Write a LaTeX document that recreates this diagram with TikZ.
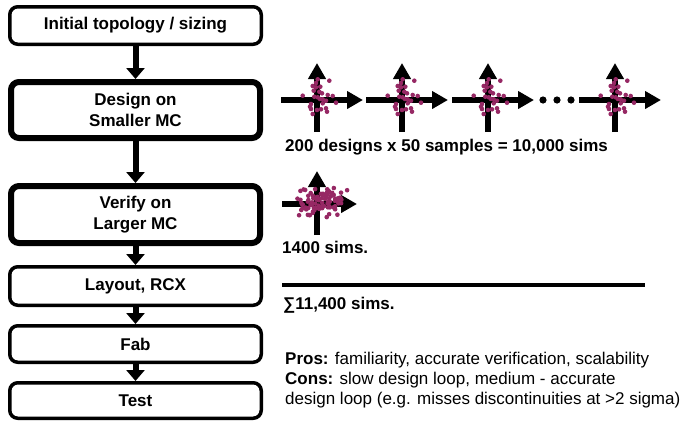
\documentclass[tikz,border=0pt]{standalone}
\usepackage{fontspec}
\setmainfont{Liberation Sans}
\usetikzlibrary{arrows.meta}
\definecolor{dotc}{RGB}{150,40,100}
\tikzset{
  thinbox/.style={draw=black,line width=3.5pt,rounded corners=8pt,fill=white,
    minimum width=251.5pt,inner sep=0pt,align=center,font=\bfseries\fontsize{17}{21}\selectfont},
  thickbox/.style={thinbox,line width=6pt,minimum width=249pt},
  flow/.style={line width=6pt,-{Triangle[width=18pt,length=11pt]}},
  axis/.style={line width=6pt,-{Triangle[width=17pt,length=16pt]}},
  dot/.style={fill=dotc,draw=none},
  lbl/.style={anchor=west,inner sep=0pt,font=\fontsize{17}{20}\selectfont},
}
\newcommand{\smallplot}[1]{%
  \begin{scope}[shift={#1}]
    \coordinate (hl) at (-36,0); \coordinate (hr) at (46,0);
    \coordinate (vb) at (0,32); \coordinate (vt) at (0,-37);
    \draw[axis] (hl) -- (hr);
    \draw[axis] (vb) -- (vt);
    \foreach \px/\py in {12.3/-19.3,0.7/-20.7,-4.3/-14,-1/-12.7,3.3/-13.3,-3.3/-9.3,2.3/-8.3,5/-6.7,
      -14.3/-4.3,-2.7/-3.3,0.7/-2.7,10.7/-5,15.7/-4,5.7/-0.7,9/0.7,19/2.7,-6/4,-7/6.7,-6/9,
      5.7/3.3,0/10,4/9.3,9/8.3,10/11.7,-4.3/14,-1/-17,3/-1}
      \fill[dot] (\px,\py) circle (2.3pt);
  \end{scope}}
\begin{document}
\begin{tikzpicture}[x=1pt,y=-1pt]
\useasboundingbox (0,0) rectangle (686,424);
% flow boxes
\node[thinbox,minimum height=37.5pt] (b1) at (135.5,25.5) {Initial topology / sizing};
\node[thickbox,minimum height=56pt] (b2) at (135.5,110) {Design on\\Smaller MC};
\node[thickbox,minimum height=57pt] (b3) at (135.5,214.5) {Verify on\\Larger MC};
\node[thinbox,minimum height=38.5pt] (b4) at (135.5,286) {Layout, RCX};
\node[thinbox,minimum height=36.5pt] (b5) at (135.5,344) {Fab};
\node[thinbox,minimum height=35.5pt] (b6) at (135.5,400.5) {Test};
\draw[flow] (b1.south) -- (b2.north);
\draw[flow] (b2.south) -- (b3.north);
\draw[flow] (b3.south) -- (b4.north);
\draw[flow] (b4.south) -- (b5.north);
\draw[flow] (b5.south) -- (b6.north);
% small plots
\smallplot{(317,100)}
\smallplot{(402,100)}
\smallplot{(488,100)}
\smallplot{(615,100)}
\foreach \dx in {543,557,571} \fill (\dx,100) circle (3.6pt);
\node[lbl,font=\bfseries\fontsize{17}{20}\selectfont] (t1) at (285,147) {200 designs x 50 samples = 10,000 sims};
% big plot
\begin{scope}[shift={(317,204)}]
  \coordinate (bhl) at (-35,0); \coordinate (bhr) at (40,0);
  \coordinate (bvb) at (0,31); \coordinate (bvt) at (0,-33);
  \draw[axis] (bhl) -- (bhr);
  \draw[axis] (bvb) -- (bvt);
  \pgfmathsetseed{4217}
  \foreach \i in {1,...,90}{
    \pgfmathsetmacro{\px}{3+14*(rand+rand)}
    \pgfmathsetmacro{\py}{-1+10*(rand+rand)}
    \fill[dot] (\px,\py) circle (2.3pt);
  }
\end{scope}
\node[lbl,font=\bfseries\fontsize{17}{20}\selectfont] (t2) at (282,247) {1400 sims.};
% sum line
\coordinate (sl) at (282,285); \coordinate (sr) at (645,285);
\draw[line width=4pt] (sl) -- (sr);
\node[lbl,font=\bfseries\fontsize{17}{20}\selectfont] (t3) at (283,305) {∑11,400 sims.};
% pros/cons
\node[lbl] (p1) at (285,360) {\textbf{Pros:} familiarity, accurate verification, scalability};
\node[lbl] (p2) at (285,380) {\textbf{Cons:} slow design loop, medium - accurate};
\node[lbl] (p3) at (285,400) {design loop (e.g. misses discontinuities at >2 sigma)};
\end{tikzpicture}
\end{document}
